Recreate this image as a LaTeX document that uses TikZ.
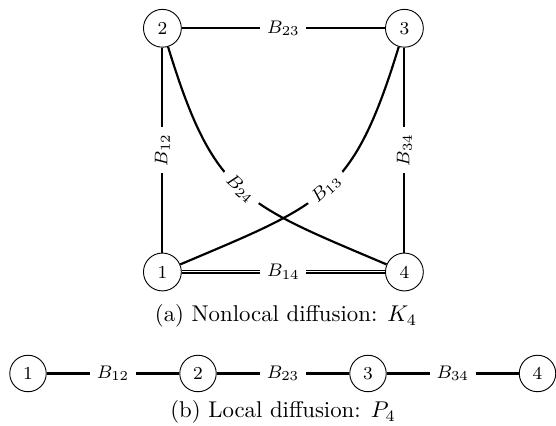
\documentclass[tikz,border=0pt]{standalone}
\begin{document}
\begin{tikzpicture}[x=0.4386pt,y=0.4386pt,
  vert/.style={circle,draw,line width=0.4pt,minimum size=16.6pt,inner sep=0pt,font=\footnotesize},
  vertb/.style={vert,minimum size=16pt},
  edge/.style={line width=0.95pt},
  lab/.style={fill=white,font=\footnotesize,inner sep=3pt},
  captext/.style={font=\normalsize,inner sep=0pt}]
\useasboundingbox (0,0) rectangle (556,426);
% (a) complete graph K4
\node[vert] (n2) at (162.4,397.7) {2};
\node[vert] (n3) at (404.4,397.7) {3};
\node[vert] (n1) at (162.4,154) {1};
\node[vert] (n4) at (404.4,154) {4};
\draw[edge] (n2) -- node[lab]{$B_{23}$} (n3);
\draw[edge] (n1) -- node[lab,sloped]{$B_{12}$} (n2);
\draw[edge] (n4) -- node[lab,sloped]{$B_{34}$} (n3);
\draw[edge,double,double distance=0.45pt,line width=0.45pt] (n1) -- node[lab]{$B_{14}$} (n4);
\draw[edge] (n2) to[out=-73,in=157,looseness=1.3] node[lab,sloped]{$B_{24}$} (n4);
\draw[edge] (n1) to[out=23,in=-107,looseness=1.3] node[lab,sloped]{$B_{13}$} (n3);
\node[captext] (capa) at (286,110) {(a) Nonlocal diffusion: $K_4$};
% (b) path graph P4
\node[vertb] (m1) at (28,52.5) {1};
\node[vertb] (m2) at (198,52.5) {2};
\node[vertb] (m3) at (368,52.5) {3};
\node[vertb] (m4) at (537.5,52.5) {4};
\draw[edge] (m1) -- node[lab]{$B_{12}$} (m2);
\draw[edge] (m2) -- node[lab]{$B_{23}$} (m3);
\draw[edge] (m3) -- node[lab]{$B_{34}$} (m4);
\node[captext] (capb) at (283,14) {(b) Local diffusion: $P_4$};
\end{tikzpicture}
\end{document}
